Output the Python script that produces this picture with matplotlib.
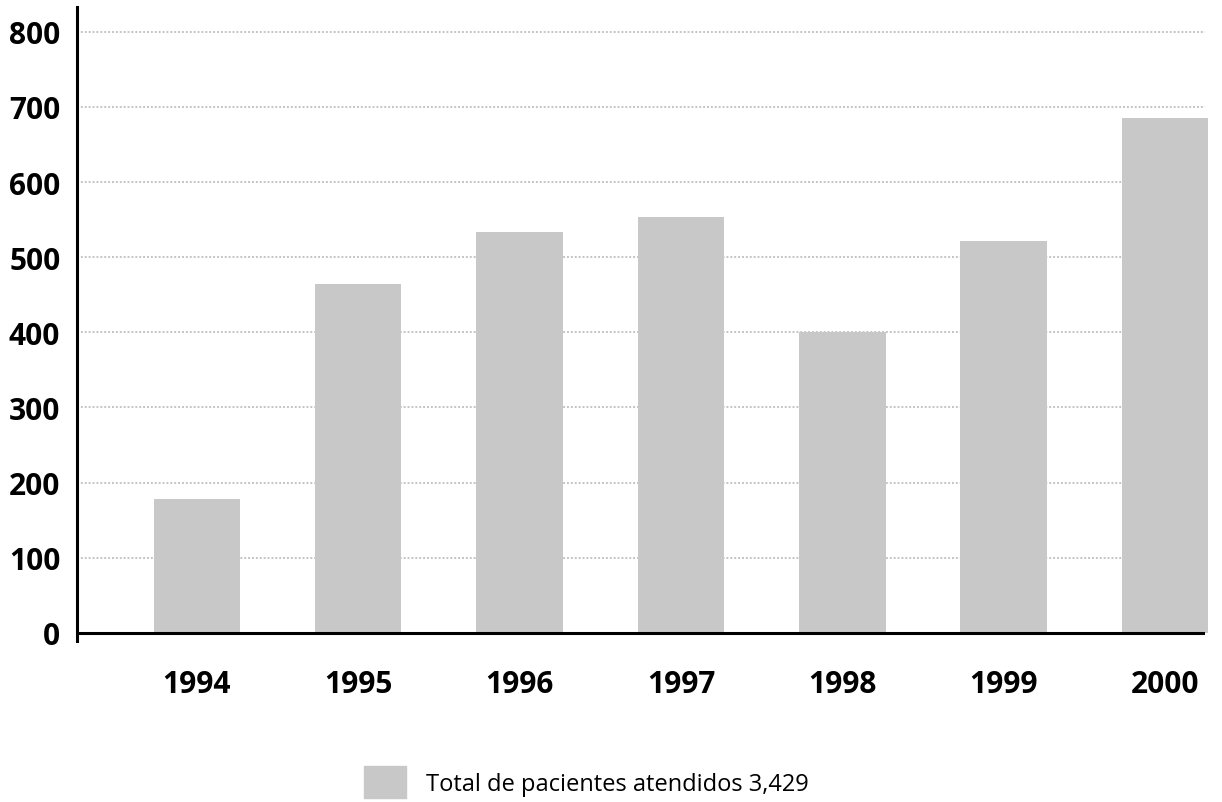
import matplotlib
matplotlib.use("Agg")
from matplotlib import pyplot as plt
from matplotlib.patches import Patch

# patients seen per year
years = ["1994", "1995", "1996", "1997", "1998", "1999", "2000"]
pacientes = [178, 464, 534, 554, 400, 521, 685]
yticks = [0, 100, 200, 300, 400, 500, 600, 700, 800]
legend_label = "Total de pacientes atendidos 3,429"

bar_color = "#c8c8c8"
grid_color = "#c4c4c4"

plt.rcParams["font.family"] = ["Open Sans", "DejaVu Sans"]

fig = plt.figure(figsize=(12.22, 8.03), dpi=100)
# axes box in pixels: left 77, right 1205, top 8, bottom 642
ax = fig.add_axes([77 / 1222, (803 - 642) / 803, (1205 - 77) / 1222, (642 - 8) / 803])

x = list(range(len(years)))
ax.bar(x, pacientes, width=0.536, color=bar_color, zorder=2, clip_on=False)

ax.set_xlim(-0.742, 6.247)
ax.set_ylim(-11, 833)

# dotted horizontal grid, drawn behind the bars
for v in yticks[1:]:
    ax.axhline(v, color=grid_color, lw=1.4, linestyle=(0, (1, 1)), zorder=1)
# baseline at zero
ax.axhline(0, color="black", lw=2.2, zorder=3)

for side in ["top", "right", "bottom"]:
    ax.spines[side].set_visible(False)
ax.spines["left"].set_linewidth(2.2)

ax.set_yticks(yticks)
ax.set_yticklabels([str(v) for v in yticks], fontsize=21.5, fontweight="bold")
ax.set_xticks(x)
ax.set_xticklabels(years, fontsize=21.5, fontweight="bold")
ax.tick_params(axis="y", length=0, pad=12)
ax.tick_params(axis="x", length=0, pad=20)

fig.legend(handles=[Patch(color=bar_color)], labels=[legend_label],
           loc="center left", bbox_to_anchor=(364 / 1222, (803 - 783) / 803),
           frameon=False, fontsize=17, handlelength=1.78, handleheight=1.65,
           handletextpad=0.85, borderpad=0, borderaxespad=0)

fig.savefig("out.png", dpi=100)
